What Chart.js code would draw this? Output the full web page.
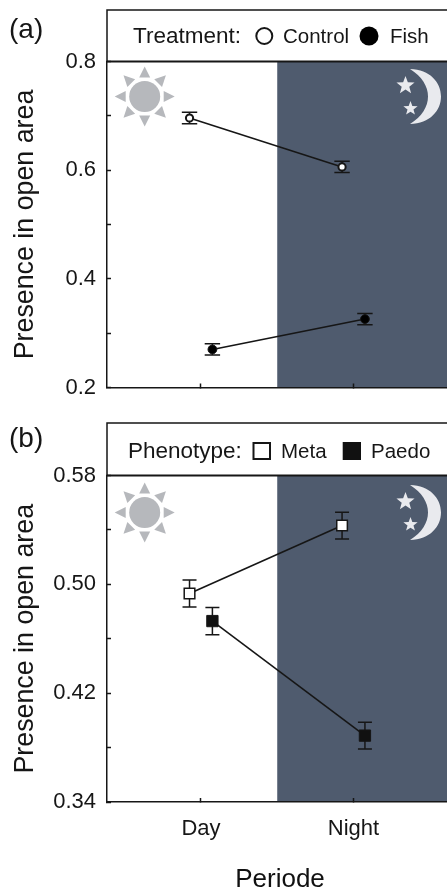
<!DOCTYPE html>
<html>
<head>
<meta charset="utf-8">
<style>
    body { margin: 0; background: #fff; }
    #wrap { position: relative; width: 447px; height: 893px; overflow: hidden; }
    canvas { position: absolute; left: 0; }
</style>
<script src="https://cdn.jsdelivr.net/npm/chart.js@4"></script>
</head>
<body>
<div id="wrap">
    <canvas id="chartA" width="447" height="400" style="top:0"></canvas>
    <canvas id="chartB" width="447" height="493" style="top:400px"></canvas>
</div>
<script>
const periods = ['Day', 'Night'];

// panel (a)
const controlMean = [0.696, 0.606];
const controlErr = [0.0105, 0.0104];
const fishMean = [0.27, 0.326];
const fishErr = [0.0104, 0.0104];
const ticksA = ['0.2', '0.4', '0.6', '0.8'];

// panel (b)
const metaMean = [0.4933, 0.5432];
const metaErr = [0.0099, 0.0098];
const paedoMean = [0.473, 0.3888];
const paedoErr = [0.01, 0.0099];
const ticksB = ['0.34', '0.42', '0.50', '0.58'];

const FONT = '"Liberation Sans", Arial, sans-serif';
const INK = '#161616';
const NIGHT = '#4f5b6e';
const DODGE = 0.075;

const series = (means, side) => means.map((y, i) => ({ x: i + 1 + side * DODGE, y: y }));

// sun, moon and stars are only decoration, placed relative to the plot corner
function drawSun(ctx, cx, cy) {
    ctx.fillStyle = '#b6b8bc';
    ctx.beginPath();
    ctx.arc(cx, cy, 15.5, 0, Math.PI * 2);
    ctx.fill();
    for (let i = 0; i < 8; i++) {
        const a = i * Math.PI / 4;
        const px = -Math.sin(a), py = Math.cos(a);
        ctx.beginPath();
        ctx.moveTo(cx + Math.cos(a) * 30, cy + Math.sin(a) * 30);
        ctx.lineTo(cx + Math.cos(a) * 19 + px * 5.5, cy + Math.sin(a) * 19 + py * 5.5);
        ctx.lineTo(cx + Math.cos(a) * 19 - px * 5.5, cy + Math.sin(a) * 19 - py * 5.5);
        ctx.closePath();
        ctx.fill();
    }
}

function drawStar(ctx, cx, cy, r) {
    ctx.beginPath();
    for (let i = 0; i < 10; i++) {
        const a = -Math.PI / 2 + i * Math.PI / 5;
        const d = i % 2 ? r * 0.42 : r;
        ctx.lineTo(cx + Math.cos(a) * d, cy + Math.sin(a) * d);
    }
    ctx.closePath();
    ctx.fill();
}

function drawMoon(ctx, cy) {
    ctx.fillStyle = '#e9eaee';
    ctx.beginPath();
    ctx.moveTo(410, cy - 27.5);
    ctx.bezierCurveTo(430, cy - 27, 441, cy - 14, 441, cy);
    ctx.bezierCurveTo(441, cy + 14, 430, cy + 27, 410, cy + 27.5);
    ctx.bezierCurveTo(422, cy + 20, 428, cy + 10, 428, cy);
    ctx.bezierCurveTo(428, cy - 10, 422, cy - 20, 410, cy - 27.5);
    ctx.fill();
    drawStar(ctx, 405.5, cy - 11, 9.5);
    drawStar(ctx, 410.5, cy + 12, 7.5);
}

function makePanel(canvasId, cfg) {
    const panelPlugin = {
        id: 'panel',
        beforeDraw(chart) {
            const { ctx, chartArea, scales } = chart;
            const split = scales.x.getPixelForValue(1.5);
            ctx.save();
            ctx.fillStyle = NIGHT;
            ctx.fillRect(split, chartArea.top, chartArea.right - split, chartArea.bottom - chartArea.top);
            drawSun(ctx, 144.7, chartArea.top + cfg.iconDy);
            drawMoon(ctx, chartArea.top + cfg.iconDy);
            ctx.restore();
        },
        beforeDatasetsDraw(chart) {
            const { ctx, scales } = chart;
            ctx.save();
            ctx.strokeStyle = INK;
            ctx.lineWidth = 1.5;
            chart.data.datasets.forEach(ds => {
                ds.data.forEach((p, i) => {
                    const x = scales.x.getPixelForValue(p.x);
                    const top = scales.y.getPixelForValue(p.y + ds.err[i]);
                    const bot = scales.y.getPixelForValue(p.y - ds.err[i]);
                    ctx.beginPath();
                    ctx.moveTo(x, top);
                    ctx.lineTo(x, bot);
                    ctx.moveTo(x - cfg.cap, top);
                    ctx.lineTo(x + cfg.cap, top);
                    ctx.moveTo(x - cfg.cap, bot);
                    ctx.lineTo(x + cfg.cap, bot);
                    ctx.stroke();
                });
            });
            ctx.restore();
        },
        afterDraw(chart) {
            const { ctx, chartArea } = chart;
            ctx.save();
            // frame of the key strip above the plot
            ctx.strokeStyle = INK;
            ctx.lineWidth = 1.5;
            ctx.beginPath();
            ctx.moveTo(chartArea.left, chartArea.top);
            ctx.lineTo(chartArea.left, cfg.stripTop);
            ctx.lineTo(chartArea.right, cfg.stripTop);
            ctx.stroke();
            ctx.lineWidth = 2;
            ctx.beginPath();
            ctx.moveTo(chartArea.left, chartArea.top);
            ctx.lineTo(chartArea.right, chartArea.top);
            ctx.stroke();

            ctx.fillStyle = INK;
            ctx.textBaseline = 'alphabetic';
            ctx.font = '28px ' + FONT;
            ctx.fillText(cfg.tag, 9, cfg.tagY);
            ctx.font = '22.5px ' + FONT;
            ctx.fillText(cfg.keyTitle, cfg.keyTitleX, cfg.keyY);
            ctx.font = '20.5px ' + FONT;
            cfg.key.forEach(k => ctx.fillText(k.label, k.textX, cfg.keyY));
            cfg.drawKey(ctx);
            if (cfg.xTitle) {
                // sits a little right of the axis centre, so the scale title can't place it
                ctx.font = '26px ' + FONT;
                ctx.textAlign = 'center';
                ctx.fillText(cfg.xTitle, 280, 487);
            }
            ctx.restore();
        }
    };

    return new Chart(document.getElementById(canvasId), {
        type: 'line',
        data: { datasets: cfg.datasets },
        options: {
            responsive: false,
            animation: false,
            layout: { autoPadding: false, padding: { top: cfg.plotTop, left: 0, right: 0, bottom: 0 } },
            plugins: { legend: { display: false }, tooltip: { enabled: false } },
            scales: {
                x: {
                    type: 'linear',
                    min: 0.384,
                    max: 2.613,
                    afterBuildTicks: axis => { axis.ticks = periods.map((p, i) => ({ value: i + 1 })); },
                    afterFit: axis => {
                        axis.height = cfg.xHeight;
                        axis.paddingLeft = 0;
                        axis.paddingRight = 0;
                    },
                    grid: { drawOnChartArea: false, tickLength: -4, tickColor: INK, tickWidth: 1.5 },
                    border: { color: INK, width: 1.5 },
                    ticks: {
                        display: cfg.showX,
                        padding: 18,
                        color: INK,
                        font: { family: FONT, size: 22 },
                        maxRotation: 0,
                        callback: v => periods[v - 1]
                    }
                },
                y: {
                    min: cfg.yMin,
                    max: cfg.yMax,
                    afterFit: axis => {
                        axis.width = 107;
                        axis.paddingTop = 0;
                        axis.paddingBottom = 0;
                    },
                    grid: { drawOnChartArea: false, tickLength: -4, tickColor: INK, tickWidth: 1.5 },
                    border: { color: INK, width: 1.5 },
                    ticks: {
                        stepSize: cfg.yStep,
                        autoSkip: false,
                        padding: 15,
                        color: INK,
                        font: { family: FONT, size: 22 },
                        callback: v => {
                            const s = v.toFixed(cfg.digits);
                            return cfg.yLabels.includes(s) ? s : '';
                        }
                    },
                    title: {
                        display: true,
                        text: 'Presence in open area',
                        color: INK,
                        font: { family: FONT, size: 26.8 },
                        padding: { top: 10, bottom: 0 }
                    }
                }
            }
        },
        plugins: [panelPlugin]
    });
}

const lineStyle = { borderColor: INK, borderWidth: 1.6, tension: 0, pointBorderColor: INK, clip: false };

makePanel('chartA', {
    tag: '(a)', tagY: 38,
    keyTitle: 'Treatment:', keyTitleX: 133, keyY: 43,
    key: [{ label: 'Control', textX: 283 }, { label: 'Fish', textX: 390 }],
    drawKey(ctx) {
        ctx.lineWidth = 2;
        ctx.strokeStyle = INK;
        ctx.beginPath();
        ctx.arc(264.3, 36, 8, 0, Math.PI * 2);
        ctx.stroke();
        ctx.fillStyle = '#000';
        ctx.beginPath();
        ctx.arc(369, 36, 9.5, 0, Math.PI * 2);
        ctx.fill();
    },
    plotTop: 61.5, stripTop: 10, xHeight: 12.5, showX: false, iconDy: 35, cap: 7.7,
    yMin: 0.2, yMax: 0.8, yStep: 0.1, digits: 1, yLabels: ticksA,
    datasets: [
        { ...lineStyle, label: 'Control', data: series(controlMean, -1), err: controlErr,
          pointStyle: 'circle', pointRadius: 3.6, pointBorderWidth: 2, pointBackgroundColor: '#fff' },
        { ...lineStyle, label: 'Fish', data: series(fishMean, 1), err: fishErr,
          pointStyle: 'circle', pointRadius: 4.4, pointBorderWidth: 1, pointBackgroundColor: '#000' }
    ]
});

makePanel('chartB', {
    tag: '(b)', tagY: 47,
    keyTitle: 'Phenotype:', keyTitleX: 128, keyY: 57.5,
    key: [{ label: 'Meta', textX: 281 }, { label: 'Paedo', textX: 371 }],
    drawKey(ctx) {
        ctx.lineWidth = 2;
        ctx.strokeStyle = INK;
        ctx.strokeRect(253.5, 43, 16.5, 16);
        ctx.fillStyle = '#111';
        ctx.fillRect(342.7, 42, 18.3, 18);
    },
    plotTop: 75.5, stripTop: 23, xHeight: 91, showX: true, xTitle: 'Periode', iconDy: 37, cap: 7,
    yMin: 0.34, yMax: 0.58, yStep: 0.04, digits: 2, yLabels: ticksB,
    datasets: [
        { ...lineStyle, label: 'Meta', data: series(metaMean, -1), err: metaErr,
          pointStyle: 'rect', pointRadius: 7.5, pointBorderWidth: 1.5, pointBackgroundColor: '#fff' },
        { ...lineStyle, label: 'Paedo', data: series(paedoMean, 1), err: paedoErr,
          pointStyle: 'rect', pointRadius: 8, pointBorderWidth: 1, pointBackgroundColor: '#111' }
    ]
});
</script>
</body>
</html>
